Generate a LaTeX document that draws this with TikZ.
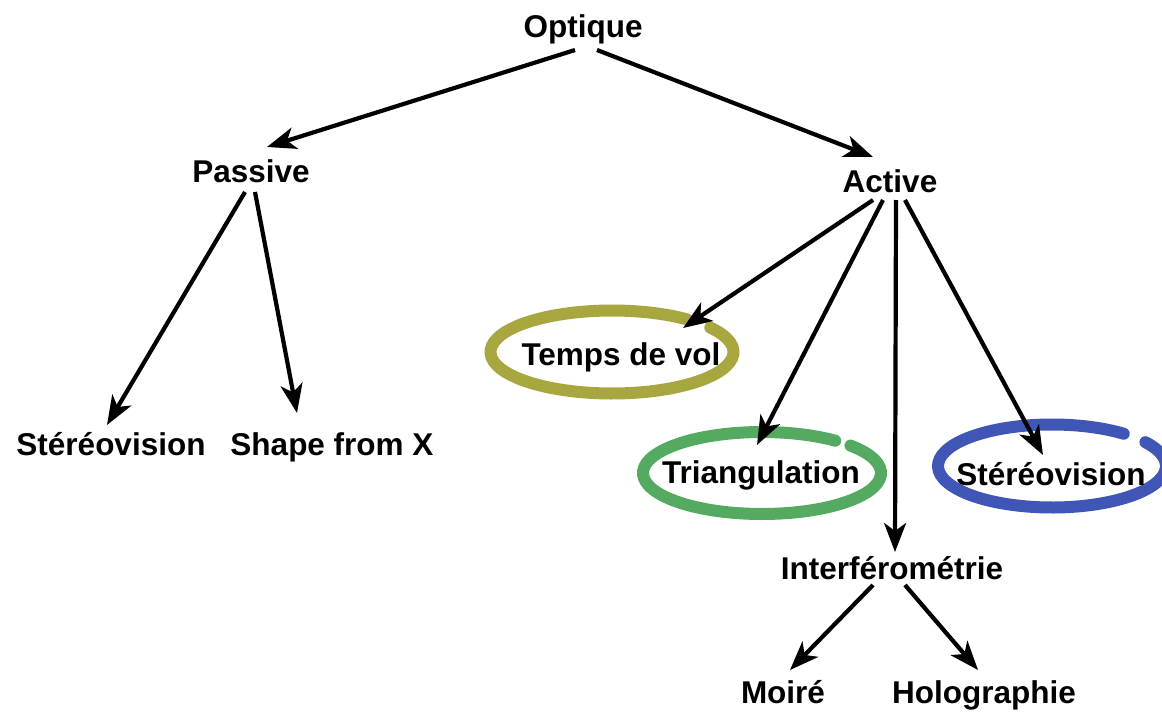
\documentclass[tikz,border=0pt]{standalone}
\usepackage{fontspec}
\setmainfont{Liberation Sans}
\usetikzlibrary{arrows.meta}
\definecolor{olivec}{RGB}{168,166,62}
\definecolor{greenc}{RGB}{84,170,96}
\definecolor{bluec}{RGB}{64,86,182}
\tikzset{
  lbl/.style={anchor=base, inner sep=0pt, font=\fontsize{31.5}{34}\selectfont\bfseries},
  arr/.style={line width=4.2pt, -{Stealth[length=29pt, width=22pt, inset=8pt]}},
  ring/.style={line width=12pt, line cap=round}
}
\begin{document}
\begin{tikzpicture}[x=1pt, y=-1pt]
\useasboundingbox (0,0) rectangle (1162,712);
\begin{scope}
\clip (0,0) rectangle (1162,712);
% brush-stroke ellipses
\coordinate (ct) at (612,352);
\coordinate (cg) at (762,473);
\coordinate (cb) at (1052,466);
\draw[ring, olivec] (ct) ++(-36:121.5 and 41.5) arc[start angle=-36, end angle=308, x radius=121.5, y radius=41.5];
\draw[ring, greenc] (cg) ++(-42:119 and 41) arc[start angle=-42, end angle=308, x radius=119, y radius=41];
\draw[ring, bluec] (cb) ++(-35:114 and 41.5) arc[start angle=-35, end angle=309, x radius=114, y radius=41.5];
\end{scope}
% labels
\node[lbl] (opt) at (583,37) {Optique};
\node[lbl] (pas) at (251,182) {Passive};
\node[lbl] (act) at (890,192) {Active};
\node[lbl] (stl) at (111,455) {Stéréovision};
\node[lbl] (shp) at (332,455) {Shape from X};
\node[lbl] (tdv) at (621,365) {Temps de vol};
\node[lbl] (tri) at (761,483) {Triangulation};
\node[lbl] (str) at (1051,485) {Stéréovision};
\node[lbl] (itf) at (892,579) {Interférométrie};
\node[lbl] (moi) at (783,703) {Moiré};
\node[lbl] (hol) at (984,703) {Holographie};
% connectors
\draw[arr] ([shift={(-8,13)}]opt.base) -- ([shift={(16,-35)}]pas.base);
\draw[arr] ([shift={(14,13)}]opt.base) -- ([shift={(-17,-35)}]act.base);
\draw[arr] ([shift={(-6,10)}]pas.base) -- ([shift={(-4,-30)}]stl.base);
\draw[arr] ([shift={(4,10)}]pas.base) -- ([shift={(-35,-42)}]shp.base);
\draw[arr] ([shift={(-17,8)}]act.base) -- ([shift={(62,-37)}]tdv.base);
\draw[arr] ([shift={(-7,8)}]act.base) -- ([shift={(-4,-38)}]tri.base);
\draw[arr] ([shift={(6,8)}]act.base) -- ([shift={(3,-27)}]itf.base);
\draw[arr] ([shift={(15,8)}]act.base) -- ([shift={(-8,-30)}]str.base);
\draw[arr] ([shift={(-19,6)}]itf.base) -- ([shift={(7,-33)}]moi.base);
\draw[arr] ([shift={(13,6)}]itf.base) -- ([shift={(-6,-33)}]hol.base);
\end{tikzpicture}
\end{document}
